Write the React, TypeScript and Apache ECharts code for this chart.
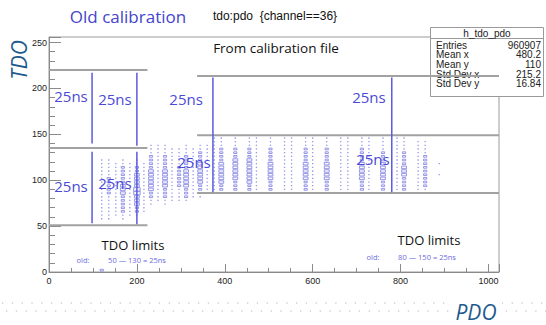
import React, { useEffect, useRef } from "react";
import * as echarts from "echarts";

// ---- histogram binning (PDO x TDO) ----
const PDO_BIN = 16;
const TDO_BIN = 4;
const MAX_COUNT = 4;

// PDO bin centres of the filled columns
const columnPdo = [
  120, 136, 152, 168, 184, 200, 216,
  232, 248, 264, 280, 296, 312, 328, 344, 360,
  376, 392, 424, 456, 472, 504, 536, 552, 584, 600, 632, 664, 680, 712, 728, 760, 792, 808, 840, 856, 888,
  120,
];
// TDO centre of the lowest filled cell in each column
const columnTdoStart = [
  58, 58, 62, 58, 62, 62, 66,
  74, 78, 74, 78, 78, 78, 82, 82, 86,
  86, 86, 86, 86, 86, 86, 86, 86, 86, 86, 86, 86, 86, 86, 86, 86, 86, 86, 86, 86, 106,
  2,
];
// relative cell contents, bottom to top, one TDO bin apart
const columnCounts = [
  [1, 1, 1, 1, 1, 1, 1, 1, 1, 1, 1, 1, 1, 1, 1, 1, 1],
  [1, 1, 1, 1, 1, 1, 1, 2, 2, 2, 2, 2, 1, 1, 1, 1, 1],
  [1, 1, 1, 1, 1, 1, 1, 1, 1, 1, 1, 1, 1, 1, 1],
  [1, 1, 2, 2, 2, 2, 2, 3, 3, 3, 2, 2, 2, 2, 2, 1, 1],
  [1, 1, 1, 1, 1, 1, 1, 1, 1, 1, 1, 1, 1, 1, 1],
  [1, 2, 2, 3, 3, 3, 4, 4, 3, 3, 3, 3, 2, 2, 1, 1],
  [1, 1, 1, 1, 1, 1, 1, 1, 1, 1, 1, 1, 1, 1],
  [1, 1, 2, 2, 3, 3, 3, 3, 3, 3, 2, 2, 2, 2, 1, 1, 1],
  [1, 1, 1, 1, 1, 1, 1, 1, 1, 1, 1, 1, 1, 1, 1, 1],
  [1, 1, 2, 2, 2, 3, 3, 3, 3, 3, 2, 2, 2, 2, 1, 1, 1],
  [1, 1, 1, 1, 1, 1, 1, 1, 1, 1, 1, 1, 1, 1, 1],
  [1, 1, 1, 1, 2, 2, 2, 2, 2, 2, 1, 1, 1, 1, 1],
  [1, 2, 2, 2, 3, 3, 3, 3, 3, 2, 2, 2, 2, 1, 1, 1],
  [1, 1, 1, 1, 1, 1, 1, 1, 1, 1, 1, 1, 1, 1],
  [1, 1, 2, 2, 3, 3, 3, 3, 3, 3, 2, 2, 2, 1, 1],
  [1, 1, 1, 1, 1, 1, 1, 1, 1, 1, 1, 1, 1, 1],
  [1, 1, 1, 1, 1, 1, 1, 1, 1, 1, 1, 1, 1, 1, 1, 1],
  [1, 2, 2, 3, 3, 3, 3, 3, 3, 2, 2, 2, 2, 1, 1, 1],
  [1, 2, 2, 2, 3, 3, 3, 3, 3, 3, 2, 2, 2, 1, 1, 1],
  [1, 2, 2, 3, 3, 3, 3, 3, 3, 3, 2, 2, 2, 1, 1, 1],
  [1, 1, 1, 1, 1, 1, 1, 1, 1, 1, 1, 1, 1, 1, 1, 1],
  [1, 2, 2, 2, 3, 3, 3, 3, 3, 2, 2, 2, 2, 1, 1, 1],
  [1, 1, 1, 1, 1, 1, 1, 1, 1, 1, 1, 1, 1, 1, 1, 1],
  [1, 1, 1, 1, 1, 1, 1, 1, 1, 1, 1, 1, 1, 1, 1, 1],
  [1, 2, 2, 2, 3, 3, 3, 3, 3, 2, 2, 2, 2, 1, 1, 1],
  [1, 1, 1, 1, 1, 1, 1, 1, 1, 1, 1, 1, 1, 1, 1, 1],
  [1, 2, 2, 2, 3, 3, 3, 3, 3, 2, 2, 2, 2, 1, 1, 1],
  [1, 1, 1, 1, 1, 1, 1, 1, 1, 1, 1, 1, 1, 1, 1, 1],
  [1, 1, 1, 1, 1, 1, 1, 1, 1, 1, 1, 1, 1, 1, 1, 1],
  [1, 2, 2, 2, 3, 3, 3, 3, 3, 2, 2, 2, 2, 1, 1, 1],
  [1, 1, 1, 1, 1, 1, 1, 1, 1, 1, 1, 1, 1, 1, 1, 1],
  [1, 2, 2, 2, 3, 3, 3, 3, 3, 2, 2, 2, 1, 1, 1, 1],
  [1, 1, 1, 1, 1, 1, 1, 1, 1, 1, 1, 1, 1, 1, 1, 1],
  [1, 2, 2, 2, 2, 3, 3, 3, 2, 2, 2, 2, 1, 1, 1, 1],
  [1, 1, 1, 1, 1, 1, 1, 1, 1, 1, 1, 1, 1, 1, 1],
  [1, 1, 2, 2, 2, 2, 2, 2, 2, 2, 2, 1, 1, 1, 1],
  [1, 0, 0, 1],
  [2],
];

// ---- calibration limit lines [pdo1, tdo1, pdo2, tdo2] ----
const limitLines = [
  [0, 220, 224, 220],
  [0, 135, 224, 135],
  [0, 51, 224, 51],
  [337, 213.5, 1024, 213.5],
  [337, 149, 1024, 149],
  [337, 86, 1024, 86],
];
// 25 ns markers [pdo1, tdo1, pdo2, tdo2]
const markerLines = [
  [98, 217, 98, 140],
  [98, 131, 98, 53],
  [200, 217, 200, 137.5],
  [200, 131, 200, 52],
  [373, 212, 373, 87],
  [780, 212, 780, 87],
];
// "25ns" label anchors [pdo, tdo]
const nsLabelPos = [
  [50, 192],
  [150, 188.5],
  [312, 188.5],
  [728, 190.5],
  [50, 93.5],
  [150, 97],
  [330, 120],
  [737, 123],
];

// ---- axis ticks ----
const xMajorTicks = [0, 200, 400, 600, 800, 1000];
const yMajorTicks = [0, 50, 100, 150, 200, 250];

// ---- statistics box ----
const statsTitle = "h_tdo_pdo";
const statsNames = ["Entries", "Mean x", "Mean y", "Std Dev x", "Std Dev y"];
const statsValues = ["960907", "480.2", "110", "215.2", "16.84"];

const BLUE_TEXT = "#4a4ad6";
const BLUE_LINE = "#5a5ae0";
const BOX_COLOR = "#8080e2";
const DOT_COLOR = "#9696e6";
const GRAY_LINE = "#a2a2a2";
const AXIS_TITLE = "#1d5b8e";
const SANS = "'Liberation Sans', Arial, sans-serif";
const OPEN = "'Open Sans', 'Noto Sans', sans-serif";

function buildCells() {
  const cells: number[][] = [];
  columnPdo.forEach((pdo, i) => {
    columnCounts[i].forEach((c, k) => {
      if (c > 0) cells.push([pdo, columnTdoStart[i] + k * TDO_BIN, c]);
    });
  });
  return cells;
}

function buildOption(): any {
  const cells = buildCells();
  const xTickLabel = (v: number) => (xMajorTicks.includes(v) ? String(v) : "");
  const yTickLabel = (v: number) => (yMajorTicks.includes(v) ? String(v) : "");

  const lineItem = (color: string, width: number) => (params: any, api: any) => {
    const a = api.coord([api.value(0), api.value(1)]);
    const b = api.coord([api.value(2), api.value(3)]);
    return {
      type: "line",
      shape: { x1: a[0], y1: a[1], x2: b[0], y2: b[1] },
      style: { stroke: color, lineWidth: width },
    };
  };

  const statsRows: any[] = [];
  statsNames.forEach((name, i) => {
    const y = 45 + i * 9.7;
    statsRows.push({
      type: "text",
      x: 436,
      y,
      style: { text: name, font: `10px ${SANS}`, fill: "#222", textAlign: "left", align: "left", textVerticalAlign: "middle", verticalAlign: "middle" },
    });
    statsRows.push({
      type: "text",
      x: 541,
      y,
      style: { text: statsValues[i], font: `10px ${SANS}`, fill: "#222", textAlign: "right", align: "right", textVerticalAlign: "middle", verticalAlign: "middle" },
    });
  });

  const txt = (x: number, y: number, text: string, font: string, fill: string, extra: any = {}) => ({
    type: "text",
    x,
    y,
    z: 20,
    style: { text, font, fill, textAlign: "center", align: "center", textVerticalAlign: "middle", verticalAlign: "middle", ...extra },
  });

  return {
    animation: false,
    backgroundColor: "#ffffff",
    grid: { left: 49, right: 47, top: 37, bottom: 53, show: true, borderColor: "#9a9a9a", borderWidth: 1, backgroundColor: "transparent" },
    xAxis: [
      {
        type: "value", min: 0, max: 1024, interval: 200, position: "bottom",
        axisLine: { show: true, lineStyle: { color: "#8a8a8a" } },
        axisTick: { show: true, inside: true, length: 8, lineStyle: { color: "#8a8a8a" } },
        axisLabel: { formatter: xTickLabel, fontFamily: SANS, fontSize: 9, color: "#222", margin: 4 },
        splitLine: { show: false },
      },
      {
        type: "value", min: 0, max: 1024, interval: 50, position: "bottom",
        axisLine: { show: false },
        axisTick: { show: true, inside: true, length: 4, lineStyle: { color: "#8a8a8a" } },
        axisLabel: { show: false },
        splitLine: { show: false },
      },
    ],
    yAxis: [
      {
        type: "value", min: 0, max: 256, interval: 50, position: "left",
        axisLine: { show: true, lineStyle: { color: "#8a8a8a" } },
        axisTick: { show: true, inside: true, length: 12, lineStyle: { color: "#8a8a8a" } },
        axisLabel: { formatter: yTickLabel, fontFamily: SANS, fontSize: 9, color: "#222", margin: 2 },
        splitLine: { show: false },
      },
      {
        type: "value", min: 0, max: 256, interval: 10, position: "left",
        axisLine: { show: false },
        axisTick: { show: true, inside: true, length: 6, lineStyle: { color: "#8a8a8a" } },
        axisLabel: { show: false },
        splitLine: { show: false },
      },
    ],
    series: [
      {
        type: "custom",
        name: "h_tdo_pdo",
        xAxisIndex: 0,
        yAxisIndex: 0,
        clip: true,
        z: 3,
        data: cells,
        renderItem: (params: any, api: any) => {
          const c = api.value(2) as number;
          const p = api.coord([api.value(0), api.value(1)]);
          const s = api.size([PDO_BIN, TDO_BIN]) as number[];
          const f = c / MAX_COUNT;
          const w = Math.max(s[0] * f * 0.92, 1);
          const h = Math.max(s[1] * f * 0.92, 1);
          if (c <= 1) {
            return {
              type: "rect",
              shape: { x: p[0] - 0.65, y: p[1] - 0.65, width: 1.3, height: 1.3 },
              style: { fill: DOT_COLOR },
            };
          }
          return {
            type: "rect",
            shape: { x: p[0] - w / 2, y: p[1] - h / 2, width: w, height: h },
            style: { fill: "rgba(240,240,255,0.5)", stroke: BOX_COLOR, lineWidth: 0.8 },
          };
        },
      },
      {
        type: "custom",
        xAxisIndex: 0,
        yAxisIndex: 0,
        clip: true,
        z: 10,
        encode: { x: [0, 2], y: [1, 3] },
        data: limitLines,
        renderItem: lineItem(GRAY_LINE, 2),
      },
      {
        type: "custom",
        xAxisIndex: 0,
        yAxisIndex: 0,
        clip: true,
        z: 11,
        encode: { x: [0, 2], y: [1, 3] },
        data: markerLines,
        renderItem: lineItem(BLUE_LINE, 1.5),
      },
      {
        type: "custom",
        xAxisIndex: 0,
        yAxisIndex: 0,
        clip: false,
        z: 12,
        data: nsLabelPos,
        renderItem: (params: any, api: any) => {
          const p = api.coord([api.value(0), api.value(1)]);
          return {
            type: "text",
            x: p[0],
            y: p[1],
            style: { text: "25ns", font: `15px ${OPEN}`, fill: BLUE_TEXT, textAlign: "center", align: "center", textVerticalAlign: "middle", verticalAlign: "middle" },
          };
        },
      },
    ],
    graphic: [
      // statistics box (sits under the limit lines)
      {
        type: "group",
        z: 5,
        children: [
          { type: "rect", shape: { x: 430.5, y: 27.5, width: 113, height: 69 }, style: { fill: "#fff", stroke: "#9a9a9a", lineWidth: 1 } },
          { type: "line", shape: { x1: 430.5, y1: 38.5, x2: 543.5, y2: 38.5 }, style: { stroke: "#9a9a9a", lineWidth: 1 } },
          { type: "text", x: 487, y: 33, style: { text: statsTitle, font: `10px ${SANS}`, fill: "#222", textAlign: "center", align: "center", textVerticalAlign: "middle", verticalAlign: "middle" } },
          ...statsRows,
        ],
      },
      txt(128, 16, "Old calibration", `17px ${OPEN}`, "#4444cc"),
      txt(275, 16, "tdo:pdo  {channel==36}", `12px ${SANS}`, "#111"),
      txt(276, 48, "From calibration file", `13.5px ${OPEN}`, "#111"),
      txt(133, 245, "TDO limits", `13px ${OPEN}`, "#111"),
      txt(429, 240, "TDO limits", `13px ${OPEN}`, "#111"),
      txt(83, 260, "old:", `7.5px ${OPEN}`, "#6a6ae0"),
      txt(137, 260, "50 \u2014 130 = 25ns", `7.5px ${OPEN}`, "#6a6ae0"),
      txt(373, 257, "old:", `7.5px ${OPEN}`, "#6a6ae0"),
      txt(427, 257, "80 \u2014 150 = 25ns", `7.5px ${OPEN}`, "#6a6ae0"),
      // axis titles
      { type: "text", x: 19, y: 60, rotation: Math.PI / 2, z: 20, style: { text: "TDO", font: `italic 21px ${OPEN}`, fill: AXIS_TITLE, textAlign: "center", align: "center", textVerticalAlign: "middle", verticalAlign: "middle" } },
      // dotted footer rows
      { type: "line", z: 1, shape: { x1: 2, y1: 303, x2: 546, y2: 303 }, style: { stroke: "#cfcfcf", lineWidth: 1.3, lineDash: [1.3, 8.5] } },
      { type: "line", z: 1, shape: { x1: 6, y1: 311, x2: 546, y2: 311 }, style: { stroke: "#cfcfcf", lineWidth: 1.3, lineDash: [1.3, 8.5] } },
      { type: "rect", z: 2, shape: { x: 452, y: 300, width: 50, height: 22 }, style: { fill: "#fff" } },
      txt(476, 312, "PDO", `italic 21px ${OPEN}`, AXIS_TITLE),
    ],
  };
}

export default function App() {
  const ref = useRef<HTMLDivElement>(null);
  useEffect(() => {
    document.body.style.margin = "0";
    const chart = echarts.init(ref.current!, undefined, { renderer: "svg" });
    chart.setOption(buildOption());
    return () => chart.dispose();
  }, []);
  return (
    <div
      ref={ref}
      style={{ position: "fixed", left: 0, top: 0, width: 546, height: 325, background: "#fff" }}
    />
  );
}
